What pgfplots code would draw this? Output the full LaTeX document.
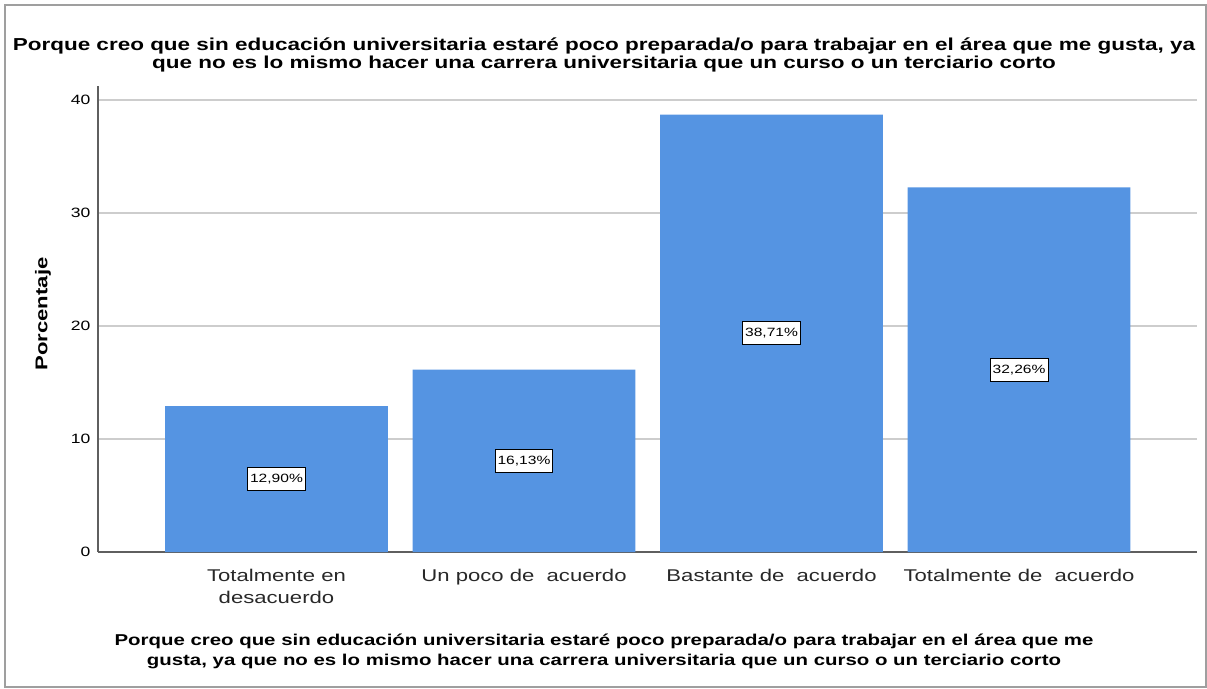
\documentclass[border=0pt]{standalone}
\usepackage{fontspec}
\setmainfont{Liberation Sans}[FakeStretch=1.3]
\usepackage{pgfplots}
\usepackage{pgfplotstable}
\pgfplotsset{compat=1.18}

\definecolor{barblue}{RGB}{85,148,226}
\definecolor{gridgray}{RGB}{205,205,205}
\definecolor{axgray}{RGB}{95,95,95}
\definecolor{txtgray}{RGB}{40,40,40}

\pgfplotstableread{
x y lab
0 12.90 {12,90\%}
1 16.13 {16,13\%}
2 38.71 {38,71\%}
3 32.26 {32,26\%}
}\datatable

\begin{document}
\begin{tikzpicture}
\useasboundingbox (0pt,0pt) rectangle (1207pt,-688pt);
\begin{axis}[
    at={(98pt,-552pt)}, anchor=south west,
    scale only axis,
    width=1099pt, height=465.6pt,
    xmin=-0.721, xmax=3.719,
    ymin=0, ymax=41.2,
    axis lines=left,
    axis line style={-, draw=axgray, line width=1.5pt},
    ytick={0,10,20,30,40},
    ymajorgrids,
    grid style={gridgray, line width=1.5pt},
    major tick length=0pt,
    xtick={0,1,2,3},
    xticklabels={{Totalmente en\\desacuerdo},{Un poco de\ \ acuerdo},{Bastante de\ \ acuerdo},{Totalmente de\ \ acuerdo}},
    xticklabel style={align=center, font=\fontsize{17}{22}\selectfont, text=txtgray, yshift=-14pt},
    yticklabel style={font=\fontsize{13.5}{15}\selectfont, text=black, xshift=-4pt},
    /pgf/number format/assume math mode=true,
]
\addplot[ybar, bar width=0.9, bar shift=0pt, fill=barblue, draw=none]
    table[x=x, y=y] {\datatable};
\addplot[only marks, mark=none, point meta=explicit symbolic,
    nodes near coords,
    every node near coord/.append style={anchor=center, draw=black, fill=white,
        line width=1pt, inner xsep=2.5pt, inner ysep=6.5pt, text=black, font=\fontsize{12}{14}\selectfont}]
    table[x=x, y expr=\thisrow{y}/2, meta=lab] {\datatable};
\end{axis}
\draw[gray!75, line width=1.2pt] (5pt,-5pt) rectangle (1206pt,-687pt);
\node[align=center, font=\bfseries\fontsize{17.3}{18.5}\selectfont] at (604pt,-55pt)
    {Porque creo que sin educación universitaria estaré poco preparada/o para trabajar en el área que me gusta, ya\\que no es lo mismo hacer una carrera universitaria que un curso o un terciario corto};
\node[align=center, font=\bfseries\fontsize{15.7}{20}\selectfont] at (604pt,-651pt)
    {Porque creo que sin educación universitaria estaré poco preparada/o para trabajar en el área que me\\gusta, ya que no es lo mismo hacer una carrera universitaria que un curso o un terciario corto};
\node[rotate=90, font=\bfseries\fontsize{17}{19}\selectfont] at (43pt,-314pt) {Porcentaje};
\end{tikzpicture}
\end{document}
